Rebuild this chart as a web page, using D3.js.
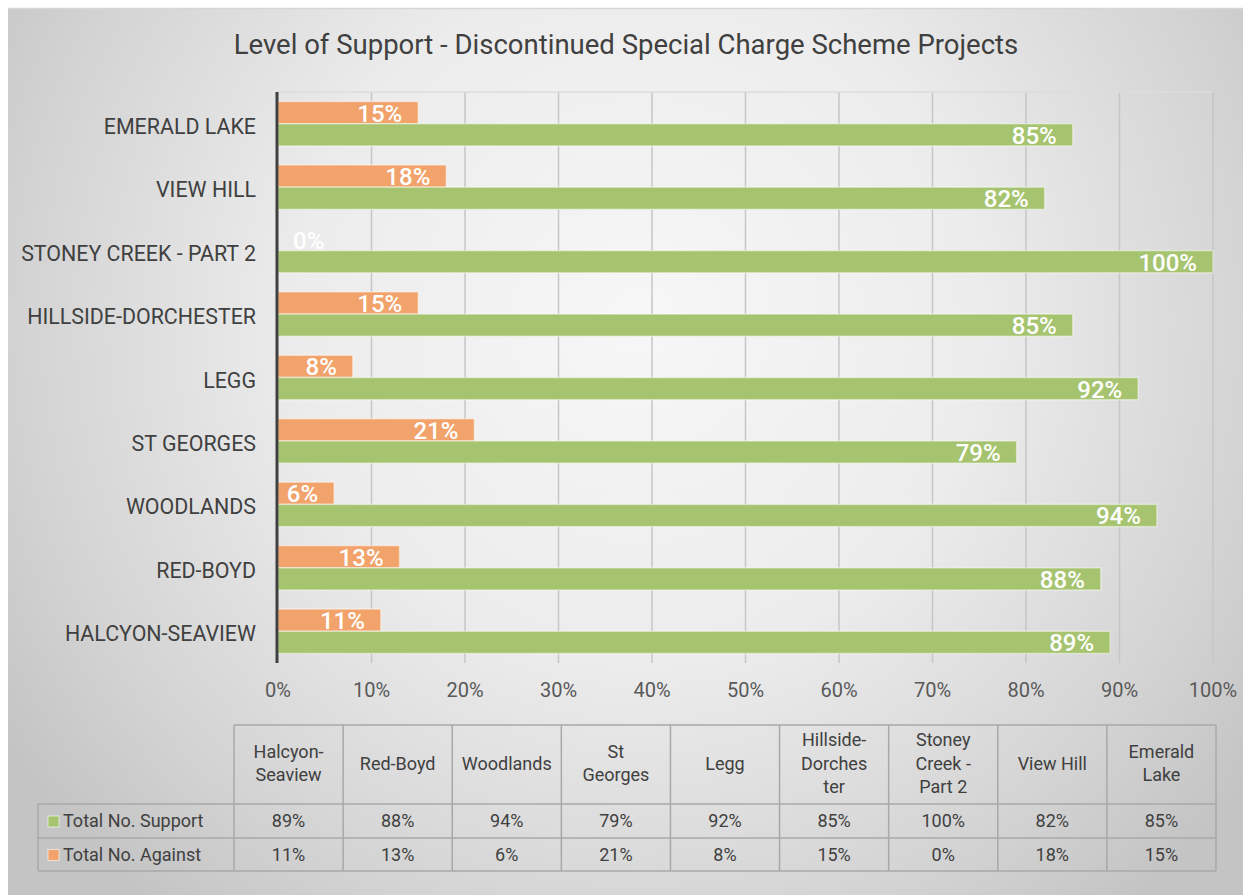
<!DOCTYPE html>
<html><head><meta charset="utf-8">
<script src="https://cdn.jsdelivr.net/npm/d3@7"></script>
<style>html,body{margin:0;padding:0;background:#fff;}svg{display:block;}</style>
</head><body>
<script>
const categories = ["Halcyon-Seaview","Red-Boyd","Woodlands","St Georges","Legg","Hillside-Dorchester","Stoney Creek - Part 2","View Hill","Emerald Lake"];
const axisLabels = ["HALCYON-SEAVIEW","RED-BOYD","WOODLANDS","ST GEORGES","LEGG","HILLSIDE-DORCHESTER","STONEY CREEK - PART 2","VIEW HILL","EMERALD LAKE"];
const headerLines = [["Halcyon-","Seaview"],["Red-Boyd"],["Woodlands"],["St","Georges"],["Legg"],["Hillside-","Dorches","ter"],["Stoney","Creek -","Part 2"],["View Hill"],["Emerald","Lake"]];
const support = [89,88,94,79,92,85,100,82,85];
const against = [11,13,6,21,8,15,0,18,15];
const seriesNames = ["Total No. Support","Total No. Against"];
const xTicks = [0,10,20,30,40,50,60,70,80,90,100];
const title = "Level of Support - Discontinued Special Charge Scheme Projects";

(function(){
const W=1249,H=895;
const FONT="Roboto, 'Liberation Sans', sans-serif";
const GREEN="#A6C46F", ORANGE="#F1A36B";
const svg=d3.select("body").append("svg").attr("width",W).attr("height",H);
const defs=svg.append("defs");
const rg=defs.append("radialGradient").attr("id","bg").attr("gradientUnits","userSpaceOnUse")
  .attr("cx",640).attr("cy",320).attr("r",760);
rg.append("stop").attr("offset","0").attr("stop-color","#f7f7f7");
rg.append("stop").attr("offset","0.45").attr("stop-color","#ececec");
rg.append("stop").attr("offset","0.8").attr("stop-color","#d4d4d4");
rg.append("stop").attr("offset","1").attr("stop-color","#c4c4c4");
svg.append("rect").attr("x",8).attr("y",8).attr("width",1235).attr("height",H-8).attr("fill","url(#bg)");
svg.append("line").attr("x1",8).attr("x2",1243).attr("y1",8.5).attr("y2",8.5).attr("stroke","#d6d6d6").attr("stroke-width",1.5);

svg.append("text").attr("x",626).attr("y",54).attr("text-anchor","middle")
  .attr("font-family",FONT).attr("font-size",27.5).attr("fill","#404040").text(title);

const x=d3.scaleLinear().domain([0,100]).range([278,1213]);
const y=d3.scaleBand().domain(categories.slice().reverse()).range([92,663]).padding(0);
const step=y.step(), bh=step*0.35;

const g=svg.append("g");
g.selectAll("line.grid").data(xTicks.slice(1)).join("line")
  .attr("x1",d=>x(d)).attr("x2",d=>x(d)).attr("y1",92).attr("y2",663)
  .attr("stroke","#c6c6c6").attr("stroke-width",1.5);
g.append("line").attr("x1",278).attr("x2",1213).attr("y1",92).attr("y2",92).attr("stroke","#dcdcdc").attr("stroke-width",1.5);

const rows=categories.map((c,i)=>({c,s:support[i],a:against[i]}));
const barG=svg.append("g");
barG.selectAll("rect.a").data(rows).join("rect")
  .attr("x",x(0)).attr("y",d=>y(d.c)+step/2-bh).attr("width",d=>x(d.a)-x(0)).attr("height",bh)
  .attr("fill",ORANGE).attr("stroke","rgba(255,255,255,0.45)").attr("stroke-width",1.5);
barG.selectAll("rect.s").data(rows).join("rect")
  .attr("x",x(0)).attr("y",d=>y(d.c)+step/2).attr("width",d=>x(d.s)-x(0)).attr("height",bh)
  .attr("fill",GREEN).attr("stroke","rgba(255,255,255,0.45)").attr("stroke-width",1.5);

const lab=svg.append("g").attr("font-family",FONT).attr("font-size",24).attr("font-weight",500).attr("fill","#fff");
lab.selectAll("text.a").data(rows).join("text")
  .attr("x",d=>d.a===0?x(0)+15:x(d.a)-16).attr("text-anchor",d=>d.a===0?"start":"end")
  .attr("y",d=>y(d.c)+step/2-bh/2+9).text(d=>d.a+"%");
lab.selectAll("text.s").data(rows).join("text")
  .attr("x",d=>x(d.s)-16).attr("text-anchor","end")
  .attr("y",d=>y(d.c)+step/2+bh/2+9).text(d=>d.s+"%");

svg.append("line").attr("x1",277).attr("x2",277).attr("y1",92).attr("y2",663).attr("stroke","#404040").attr("stroke-width",3);

svg.append("g").selectAll("text").data(categories).join("text")
  .attr("x",256).attr("y",d=>y(d)+step/2+10).attr("text-anchor","end")
  .attr("font-family",FONT).attr("font-size",21.4).attr("fill","#404040")
  .text((d,i)=>axisLabels[i]);

svg.append("g").selectAll("text").data(xTicks).join("text")
  .attr("x",d=>x(d)).attr("y",697).attr("text-anchor","middle")
  .attr("font-family",FONT).attr("font-size",20).attr("fill","#595959").text(d=>d+"%");

const tx=d3.scaleBand().domain(categories).range([234,1216]);
const cw=tx.step();
const T=svg.append("g").attr("font-family",FONT).attr("fill","#404040");
const tTop=725,r1=804,r2=838,r3=871,left=38;
const stroke="#a8a8a8";
const lines=[
  [234,tTop,1216,tTop],[left,r1,1216,r1],[left,r2,1216,r2],[left,r3,1216,r3],[left,r1,left,r3]
];
categories.forEach(c=>lines.push([tx(c),tTop,tx(c),r3]));
lines.push([1216,tTop,1216,r3]);
T.selectAll("line").data(lines).join("line")
  .attr("x1",d=>d[0]).attr("y1",d=>d[1]).attr("x2",d=>d[2]).attr("y2",d=>d[3])
  .attr("stroke",stroke).attr("stroke-width",1.5);
const lh=23.5, fs=18;
categories.forEach((c,i)=>{
  const ls=headerLines[i];
  const t=T.append("text").attr("text-anchor","middle").attr("font-size",fs);
  ls.forEach((l,j)=>{
    t.append("tspan").attr("x",tx(c)+cw/2).attr("y",(tTop+r1)/2+5+(j-(ls.length-1)/2)*lh).text(l);
  });
  T.append("text").attr("text-anchor","middle").attr("font-size",fs)
    .attr("x",tx(c)+cw/2).attr("y",(r1+r2)/2+6).text(support[i]+"%");
  T.append("text").attr("text-anchor","middle").attr("font-size",fs)
    .attr("x",tx(c)+cw/2).attr("y",(r2+r3)/2+6).text(against[i]+"%");
});
[[GREEN,(r1+r2)/2],[ORANGE,(r2+r3)/2]].forEach((k,i)=>{
  T.append("rect").attr("x",48).attr("y",k[1]-5).attr("width",11).attr("height",11)
    .attr("fill",k[0]).attr("stroke","rgba(255,255,255,0.6)").attr("stroke-width",1);
  T.append("text").attr("x",63).attr("y",k[1]+6).attr("font-size",fs).text(seriesNames[i]);
});
})();
</script>
</body></html>
